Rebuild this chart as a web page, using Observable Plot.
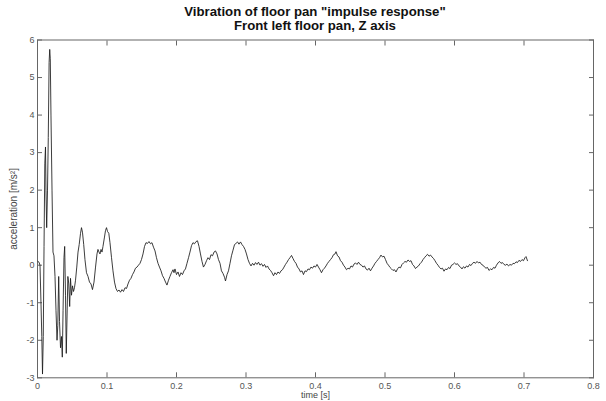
<!DOCTYPE html>
<html>
<head>
<meta charset="utf-8">
<script src="https://cdn.jsdelivr.net/npm/d3@7"></script>
<script src="https://cdn.jsdelivr.net/npm/@observablehq/plot@0.6"></script>
<style>
  html, body { margin: 0; padding: 0; background: #fff; }
  #title { box-sizing: border-box; width: 606px; height: 32px; padding-top: 5px; padding-left: 24px;
    text-align: center; font-family: "Liberation Sans", Arial, sans-serif; font-weight: bold;
    font-size: 13.2px; line-height: 13.5px; color: #111; white-space: nowrap; overflow: visible; }
  #chart svg { display: block; }
</style>
</head>
<body>
<div id="title"></div>
<div id="chart"></div>
<script>
const titleLines = ['Vibration of floor pan "impulse response"', 'Front left floor pan, Z axis'];
const xLabel = "time [s]";
const yLabel = "acceleration [m/s²]";
const xTicks = [0, 0.1, 0.2, 0.3, 0.4, 0.5, 0.6, 0.7, 0.8];
const yTicks = [-3, -2, -1, 0, 1, 2, 3, 4, 5, 6];

// time [s]
const time = [
0.0007,0.0022,0.0036,0.0050,0.0062,0.0072,0.0083,0.0094,0.0105,0.0115,0.0122,0.0132,0.0144,0.0155,0.0167,0.0176,0.0184,0.0194,0.0209,0.0223,
0.0237,0.0252,0.0266,0.0281,0.0292,0.0305,0.0317,0.0331,0.0345,0.0357,0.0368,0.0381,0.0391,0.0403,0.0414,0.0426,0.0437,0.0450,0.0463,0.0475,
0.0489,0.0504,0.0518,0.0532,0.0547,0.0565,0.0583,0.0600,0.0619,0.0633,0.0647,0.0665,0.0683,0.0705,0.0727,0.0748,0.0770,0.0791,0.0813,0.0835,
0.0856,0.0870,0.0885,0.0899,0.0914,0.0928,0.0942,0.0964,0.0978,0.0993,0.1007,0.1026,0.1043,0.1065,0.1086,0.1108,0.1129,0.1151,0.1173,0.1194,
0.1216,0.1237,0.1259,0.1281,0.1302,0.1324,0.1345,0.1367,0.1388,0.1410,0.1432,0.1453,0.1475,0.1496,0.1518,0.1540,0.1561,0.1583,0.1604,0.1626,
0.1647,0.1669,0.1691,0.1712,0.1734,0.1755,0.1777,0.1799,0.1820,0.1842,0.1863,0.1885,0.1906,0.1928,0.1950,0.1964,0.1978,0.2000,0.2022,0.2043,
0.2065,0.2086,0.2108,0.2129,0.2151,0.2173,0.2194,0.2216,0.2237,0.2259,0.2281,0.2302,0.2324,0.2345,0.2367,0.2388,0.2410,0.2432,0.2453,0.2475,
0.2496,0.2518,0.2540,0.2561,0.2583,0.2604,0.2626,0.2647,0.2669,0.2691,0.2705,0.2727,0.2748,0.2770,0.2791,0.2813,0.2835,0.2856,0.2878,0.2899,
0.2921,0.2942,0.2964,0.2986,0.3007,0.3029,0.3050,0.3072,0.3094,0.3115,0.3137,0.3158,0.3180,0.3201,0.3223,0.3245,0.3266,0.3288,0.3309,0.3331,
0.3353,0.3374,0.3396,0.3417,0.3439,0.3460,0.3482,0.3504,0.3525,0.3547,0.3568,0.3590,0.3612,0.3633,0.3655,0.3676,0.3698,0.3719,0.3741,0.3763,
0.3784,0.3806,0.3827,0.3849,0.3871,0.3892,0.3914,0.3935,0.3957,0.3978,0.4000,0.4022,0.4043,0.4065,0.4086,0.4108,0.4129,0.4151,0.4173,0.4194,
0.4216,0.4237,0.4259,0.4281,0.4295,0.4317,0.4338,0.4360,0.4381,0.4403,0.4424,0.4446,0.4468,0.4489,0.4511,0.4532,0.4554,0.4576,0.4597,0.4619,
0.4640,0.4662,0.4683,0.4705,0.4727,0.4748,0.4770,0.4791,0.4813,0.4835,0.4856,0.4878,0.4899,0.4921,0.4942,0.4964,0.4986,0.5007,0.5029,0.5050,
0.5072,0.5094,0.5115,0.5137,0.5158,0.5180,0.5201,0.5223,0.5245,0.5266,0.5288,0.5309,0.5331,0.5353,0.5374,0.5396,0.5417,0.5439,0.5460,0.5482,
0.5504,0.5525,0.5547,0.5568,0.5590,0.5612,0.5633,0.5655,0.5676,0.5698,0.5719,0.5741,0.5763,0.5784,0.5806,0.5827,0.5849,0.5871,0.5892,0.5914,
0.5935,0.5957,0.5978,0.6000,0.6022,0.6043,0.6065,0.6086,0.6108,0.6129,0.6151,0.6173,0.6194,0.6216,0.6237,0.6259,0.6281,0.6302,0.6324,0.6345,
0.6367,0.6388,0.6410,0.6432,0.6453,0.6475,0.6496,0.6518,0.6540,0.6561,0.6583,0.6604,0.6626,0.6647,0.6669,0.6690,0.6712,0.6734,0.6755,0.6777,
0.6799,0.6820,0.6842,0.6863,0.6885,0.6906,0.6928,0.6950,0.6971,0.6993,0.7014,0.7029,0.7050
];

// acceleration [m/s²]
const accel = [
0.10,0.08,0.00,-1.00,-1.90,-2.90,-1.90,0.50,2.70,3.15,2.00,1.00,2.00,3.40,5.40,5.75,5.50,4.00,2.00,0.35,
0.25,-0.30,-1.20,-2.00,-1.60,-0.30,-1.50,-2.20,-1.90,-2.45,-1.20,0.20,0.50,-0.80,-2.35,-1.30,-0.30,-0.50,-1.10,-0.35,
-0.80,-0.55,-0.70,-0.60,-0.40,-0.05,0.35,0.55,0.85,1.00,0.88,0.55,0.15,-0.20,-0.30,-0.45,-0.50,-0.65,-0.45,-0.05,
0.30,0.42,0.35,0.30,0.42,0.35,0.50,0.75,0.92,1.00,0.90,0.85,0.60,0.20,-0.15,-0.45,-0.62,-0.70,-0.66,-0.72,
-0.65,-0.70,-0.60,-0.62,-0.50,-0.40,-0.35,-0.25,-0.18,-0.08,-0.05,0.00,0.05,0.15,0.30,0.50,0.60,0.58,0.63,0.57,
0.60,0.48,0.38,0.20,0.05,-0.05,-0.15,-0.28,-0.35,-0.45,-0.53,-0.40,-0.30,-0.20,-0.12,-0.20,-0.10,-0.25,-0.18,-0.30,
-0.20,-0.25,-0.15,-0.10,0.05,0.20,0.35,0.52,0.60,0.57,0.63,0.65,0.50,0.30,0.10,-0.05,0.02,0.12,0.20,0.15,
0.28,0.25,0.35,0.38,0.30,0.15,0.05,-0.15,-0.22,-0.32,-0.42,-0.25,-0.15,0.05,0.25,0.40,0.55,0.58,0.62,0.56,
0.62,0.55,0.50,0.42,0.30,0.15,0.05,-0.02,0.05,0.00,0.07,0.02,0.08,0.00,0.04,-0.03,0.02,-0.06,-0.02,-0.10,
-0.14,-0.20,-0.28,-0.20,-0.25,-0.18,-0.22,-0.15,-0.12,-0.05,0.02,0.08,0.15,0.20,0.26,0.18,0.10,0.05,-0.05,-0.10,
-0.18,-0.15,-0.25,-0.15,-0.17,-0.10,-0.12,-0.05,-0.08,-0.02,-0.05,0.02,-0.05,-0.12,-0.20,-0.12,-0.08,-0.02,0.05,0.10,
0.15,0.20,0.28,0.30,0.36,0.25,0.22,0.12,0.08,0.00,-0.05,-0.12,-0.08,-0.10,-0.02,-0.05,0.03,0.06,0.02,0.08,
0.02,0.00,-0.05,-0.02,-0.10,-0.13,-0.08,-0.15,-0.08,-0.02,0.05,0.10,0.15,0.20,0.27,0.22,0.24,0.15,0.05,0.00,
-0.06,-0.10,-0.14,-0.12,-0.18,-0.10,-0.05,-0.07,0.02,0.06,0.10,0.08,0.14,0.10,0.12,0.02,-0.02,-0.09,-0.05,-0.02,
0.04,0.08,0.15,0.20,0.25,0.29,0.24,0.27,0.22,0.18,0.12,0.05,0.00,-0.06,-0.10,-0.08,-0.16,-0.10,-0.12,-0.06,
-0.09,0.00,0.02,0.06,0.02,0.04,-0.02,-0.05,-0.10,-0.04,-0.08,-0.02,-0.05,0.02,-0.01,0.05,0.08,0.05,0.10,0.06,
0.08,0.02,0.00,-0.05,-0.08,-0.06,-0.14,-0.10,-0.12,-0.06,-0.08,0.00,0.06,0.10,0.05,0.07,0.02,0.00,0.03,-0.02,
0.02,0.00,0.05,0.04,0.09,0.07,0.13,0.10,0.15,0.12,0.20,0.23,0.12
];

const data = time.map((t, i) => ({t, v: accel[i]}));

const titleEl = document.getElementById("title");
titleLines.forEach((line, i) => {
  if (i > 0) titleEl.append(document.createElement("br"));
  titleEl.append(document.createTextNode(line));
});

const fmt = d => String(d);
const axisColor = "#555";

const chart = Plot.plot({
  width: 606,
  height: 369,
  marginTop: 7.5,
  marginLeft: 37,
  marginRight: 13,
  marginBottom: 23.7,
  x: {domain: [0, 0.8]},
  y: {domain: [-3, 6]},
  style: {fontFamily: "'Liberation Sans', Arial, sans-serif", fontSize: "9px", color: axisColor, background: "white", overflow: "visible"},
  marks: [
    Plot.axisX({anchor: "bottom", ticks: xTicks, tickSize: -5, tickPadding: 9.5, tickFormat: fmt, label: null, stroke: "#666"}),
    Plot.axisX({anchor: "top", ticks: xTicks, tickSize: -5, tickFormat: () => "", label: null, stroke: "#666"}),
    Plot.axisY({anchor: "left", ticks: yTicks, tickSize: -5, tickPadding: 8, tickFormat: fmt, label: null, stroke: "#666"}),
    Plot.axisY({anchor: "right", ticks: yTicks, tickSize: -5, tickFormat: () => "", label: null, stroke: "#666"}),
    Plot.frame({stroke: "#666"}),
    Plot.line(data, {x: "t", y: "v", stroke: "#1a1a1a", strokeWidth: 0.85}),
    Plot.text([xLabel], {frameAnchor: "bottom", dy: 20.5, fontSize: 9, fill: "#444"}),
    Plot.text([yLabel], {frameAnchor: "left", textAnchor: "middle", dx: -24, rotate: -90, fontSize: 10, fill: "#444"})
  ]
});
document.getElementById("chart").append(chart);
</script>
</body>
</html>
